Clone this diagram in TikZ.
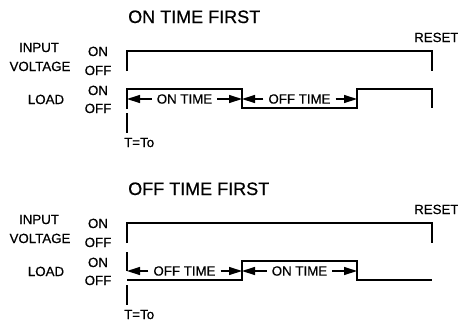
\documentclass[tikz,border=0pt]{standalone}
\usepackage{fontspec}
\setmainfont{Liberation Sans}[FakeBold=0.6]
\newfontfamily\heavyfont{Liberation Sans}[FakeBold=0.6]
\usetikzlibrary{arrows.meta}
\tikzset{
  lbl/.style={inner sep=0pt, font=\heavyfont\fontsize{13.3}{13}\selectfont},
  ttl/.style={inner sep=0pt, font=\heavyfont\fontsize{18}{18}\selectfont, anchor=base west},
  wave/.style={line width=1.4pt, line join=miter},
  span/.style={inner xsep=5pt, inner ysep=0pt, font=\heavyfont\fontsize{13.3}{13}\selectfont},
  dim/.style={line width=1.3pt, -{Triangle[length=13pt,width=8pt]}},
}
\begin{document}
\begin{tikzpicture}[x=1pt,y=-1pt]
\useasboundingbox (0,0) rectangle (458,322);
% ---------- top panel ----------
\node[ttl] (t1) at (128,23) {ON TIME FIRST};
\node[lbl, anchor=base west] (r1) at (414,42) {RESET};
\node[lbl, anchor=base] (in1) at (39,52) {INPUT};
\node[lbl, anchor=base] (vo1) at (40,71) {VOLTAGE};
\node[lbl, anchor=base] (on1) at (98,56) {ON};
\node[lbl, anchor=base] (of1) at (98,75) {OFF};
\node[lbl, anchor=base] (ld1) at (46,104) {LOAD};
\node[lbl, anchor=base] (on1b) at (98,95) {ON};
\node[lbl, anchor=base] (of1b) at (98,113) {OFF};
\draw[wave] (127,71) -- (127,51) -- (432,51) -- (432,71);
\draw[wave] (127,109) -- (127,89) -- (242,89) -- (242,108) -- (357,108) -- (357,89) -- (432,89) -- (432,108);
\draw[wave] (127,113) -- (127,133);
\node[lbl, anchor=base west] (tt1) at (124,147) {T=To};
\coordinate (a0) at (127,99);
\coordinate (a1) at (242,99);
\coordinate (a2) at (357,99);
\node[span] (ont1) at (184.5,99) {ON TIME};
\node[span] (oft1) at (299.5,99) {OFF TIME};
\draw[dim] (ont1.west) -- (a0);
\draw[dim] (ont1.east) -- (a1);
\draw[dim] (oft1.west) -- (a1);
\draw[dim] (oft1.east) -- (a2);
% ---------- bottom panel ----------
\node[ttl] (t2) at (128,195) {OFF TIME FIRST};
\node[lbl, anchor=base west] (r2) at (414,214) {RESET};
\node[lbl, anchor=base] (in2) at (39,224) {INPUT};
\node[lbl, anchor=base] (vo2) at (40,243) {VOLTAGE};
\node[lbl, anchor=base] (on2) at (98,228) {ON};
\node[lbl, anchor=base] (of2) at (98,247) {OFF};
\node[lbl, anchor=base] (ld2) at (46,276) {LOAD};
\node[lbl, anchor=base] (on2b) at (98,267) {ON};
\node[lbl, anchor=base] (of2b) at (98,285) {OFF};
\draw[wave] (127,243) -- (127,223) -- (432,223) -- (432,243);
\draw[wave] (127,252) -- (127,271);
\draw[wave] (127,280) -- (242,280) -- (242,261) -- (357,261) -- (357,280) -- (432,280);
\draw[wave] (127,285) -- (127,305);
\node[lbl, anchor=base west] (tt2) at (124,319) {T=To};
\coordinate (b0) at (127,271);
\coordinate (b1) at (242,271);
\coordinate (b2) at (357,271);
\node[span] (oft2) at (184.5,271) {OFF TIME};
\node[span] (ont2) at (299.5,271) {ON TIME};
\draw[dim] (oft2.west) -- (b0);
\draw[dim] (oft2.east) -- (b1);
\draw[dim] (ont2.west) -- (b1);
\draw[dim] (ont2.east) -- (b2);
\end{tikzpicture}
\end{document}
